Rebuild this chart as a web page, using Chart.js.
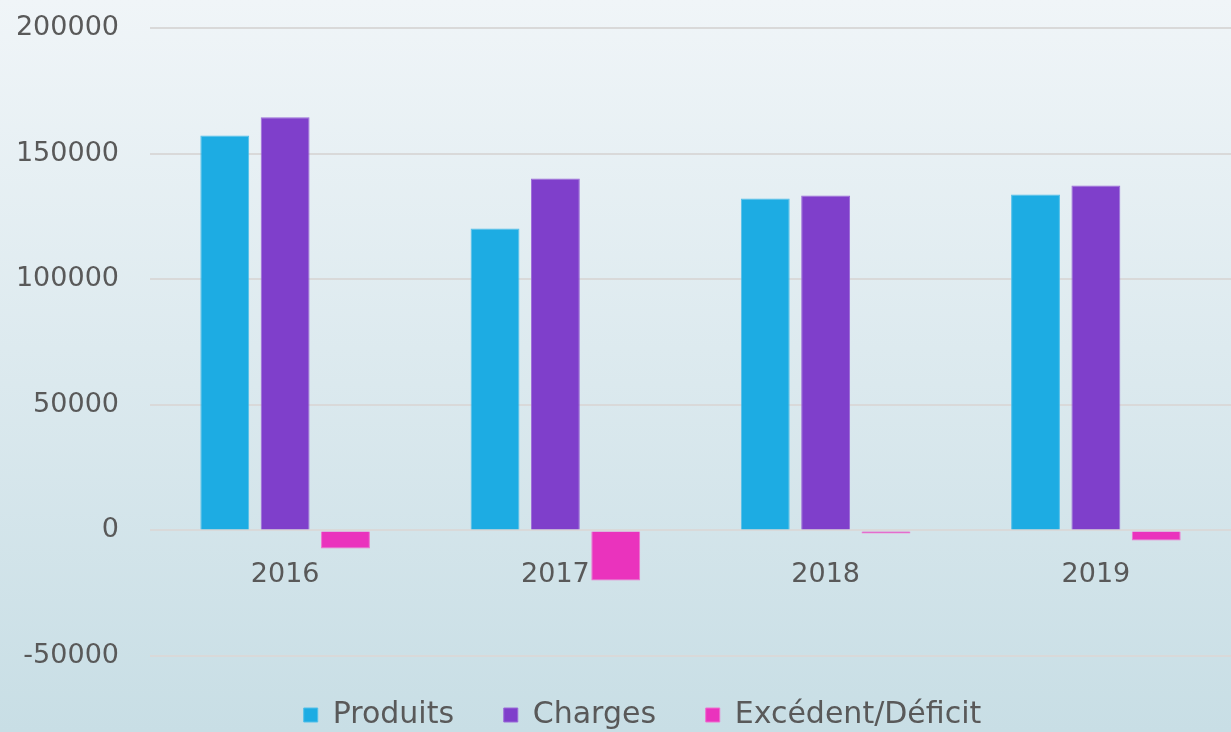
<!DOCTYPE html>
<html>
<head>
<meta charset="utf-8">
<script src="https://cdn.jsdelivr.net/npm/chart.js@4/dist/chart.umd.min.js"></script>
<style>
  html, body { margin: 0; padding: 0; }
  body {
    width: 1231px; height: 732px; overflow: hidden;
    background: linear-gradient(to bottom, #f0f5f8 0%, #c8dee5 100%);
  }
  #wrap { width: 1231px; height: 732px; }
</style>
</head>
<body>
<div id="wrap"><canvas id="budgetChart"></canvas></div>
<script>
// years and amounts
var years = ['2016', '2017', '2018', '2019'];
var produits = [157200, 120200, 132100, 133700];
var charges = [164500, 140100, 133300, 137300];
var excedent = [-7200, -19900, -1200, -4000];

var yTicks = [-50000, 0, 50000, 100000, 150000, 200000];

var grey = '#595959';

// legend sits a bit right of the canvas centre in the original
var legendShift = {
    id: 'legendShift',
    afterLayout: function (chart) {
        chart.legend.left += 27;
        chart.legend.right += 27;
    }
};

var ctx = document.getElementById('budgetChart').getContext('2d');
var myChart = new Chart(ctx, {
    type: 'bar',
    data: {
        labels: years,
        datasets: [{
            label: 'Produits',
            data: produits,
            backgroundColor: '#1dace3',
            borderColor: '#52bfe9',
            borderWidth: 1
        }, {
            label: 'Charges',
            data: charges,
            backgroundColor: '#7f3fcb',
            borderColor: '#9b6ad8',
            borderWidth: 1
        }, {
            label: 'Excédent/Déficit',
            data: excedent,
            backgroundColor: '#ea33bd',
            borderColor: '#ef6fcf',
            borderWidth: 1
        }]
    },
    plugins: [legendShift],
    options: {
        responsive: true,
        maintainAspectRatio: false,
        animation: false,
        layout: { padding: { top: 28, right: 0, left: 0, bottom: -8 } },
        datasets: {
            bar: { categoryPercentage: 0.67, barPercentage: 0.81 }
        },
        plugins: {
            tooltip: { enabled: false },
            legend: {
                position: 'bottom',
                // empty title only pushes the legend row down
                title: { display: true, text: ' ', font: { size: 10 }, padding: { top: 30, bottom: 0 } },
                labels: {
                    color: grey,
                    font: { family: 'DejaVu Sans', size: 30 },
                    boxWidth: 14,
                    boxHeight: 14,
                    padding: 2,
                    generateLabels: function (chart) {
                        var items = Chart.defaults.plugins.legend.labels.generateLabels(chart);
                        items.forEach(function (it, i) {
                            if (i < items.length - 1) it.text = it.text + '     ';
                        });
                        return items;
                    }
                }
            }
        },
        scales: {
            x: {
                position: { y: 0 },
                grid: { display: false },
                border: { display: false },
                ticks: {
                    color: grey,
                    padding: 20,
                    font: { family: 'DejaVu Sans', size: 27 }
                }
            },
            y: {
                min: -50000,
                max: 200000,
                afterBuildTicks: function (axis) {
                    axis.ticks = yTicks.map(function (v) { return { value: v }; });
                },
                afterFit: function (axis) { axis.width = 150; },
                grid: {
                    color: '#d9d9d9', lineWidth: 2,
                    drawTicks: true, tickLength: 31, tickColor: 'rgba(0,0,0,0)'
                },
                border: { display: false },
                ticks: {
                    color: grey,
                    padding: 0,
                    font: { family: 'DejaVu Sans', size: 27 },
                    callback: function (v) { return String(v); }
                }
            }
        }
    }
});
</script>
</body>
</html>
